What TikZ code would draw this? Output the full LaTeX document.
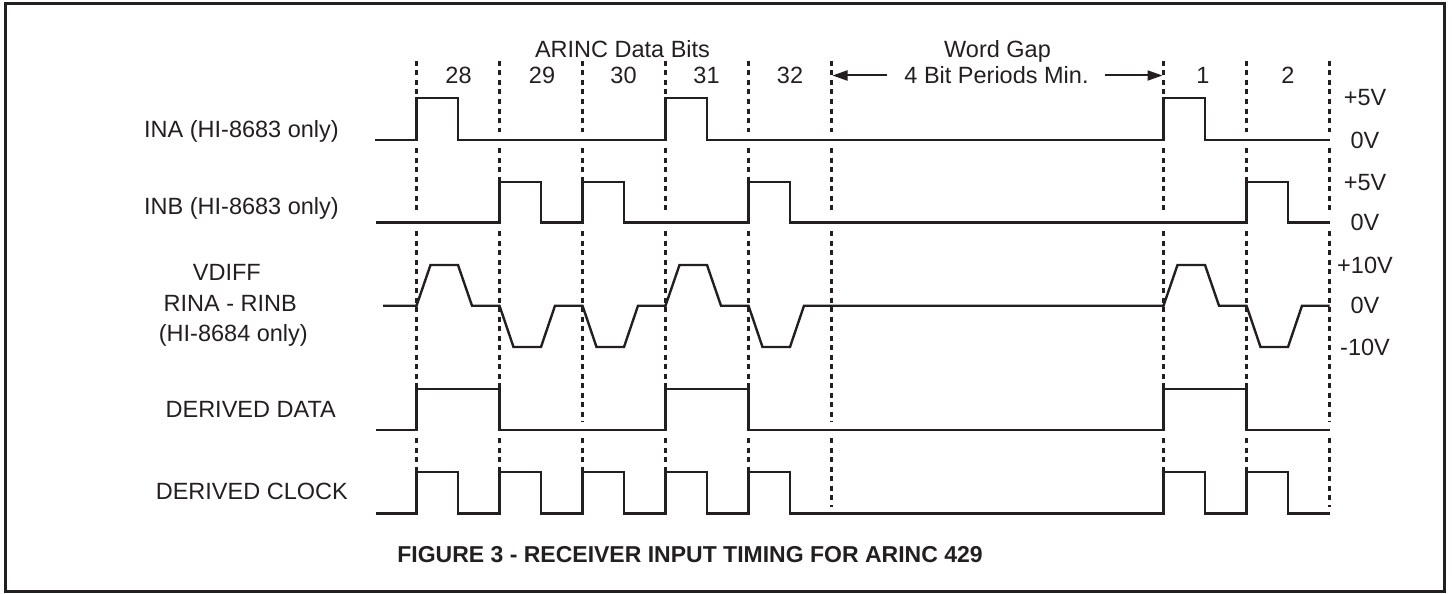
\documentclass[tikz,border=0pt]{standalone}
\usepackage{fontspec}
\setmainfont{Liberation Sans}
\usetikzlibrary{arrows.meta}
\definecolor{ink}{HTML}{231F20}
\begin{document}
\begin{tikzpicture}[x=1pt,y=-1pt,
  wave/.style={draw=ink, line width=2.4pt, line join=miter},
  gridline/.style={draw=ink, line width=2.1pt, dash pattern=on 5pt off 4.5pt},
  lbl/.style={text=ink, inner sep=0pt, font=\fontsize{23.5}{28}\selectfont},
  ttl/.style={text=ink, inner sep=0pt, font=\bfseries\fontsize{23}{27}\selectfont},
  gaparrow/.style={draw=ink, line width=2pt, -{Triangle[length=15pt,width=10pt]}},
  framebox/.style={draw=ink, line width=3.3pt}]
\useasboundingbox (0,0) rectangle (1452,594);
\draw[framebox] (5.5,3.5) rectangle (1444.5,591.7);

% dotted bit boundaries
\foreach \x in {416.5,499.5,582.5,665.5,748.5,831.5,1163.5,1246.5,1329.5} {
  \draw[gridline] (\x,61) -- (\x,132);
  \draw[gridline] (\x,148) -- (\x,214);
  \draw[gridline] (\x,231) -- (\x,422);
  \draw[gridline] (\x,438) -- (\x,507);
}

% top labels
\node[lbl, anchor=base] (arinc) at (622.5,58) {ARINC Data Bits};
\node[lbl, anchor=base] (b28) at (458.5,83.5) {28};
\node[lbl, anchor=base] (b29) at (542,83.5) {29};
\node[lbl, anchor=base] (b30) at (623.5,83.5) {30};
\node[lbl, anchor=base] (b31) at (706.5,83.5) {31};
\node[lbl, anchor=base] (b32) at (790,83.5) {32};
\node[lbl, anchor=base] (b1) at (1203,83.5) {1};
\node[lbl, anchor=base] (b2) at (1288,83.5) {2};
\node[lbl, anchor=base] (wgap) at (997.5,58) {Word Gap};
\node[lbl, anchor=base] (wgmin) at (996.5,83.5) {4 Bit Periods Min.};
\coordinate (gapLtail) at (887,75.5);
\coordinate (gapL) at (832.5,75.5);
\coordinate (gapRtail) at (1105,75.5);
\coordinate (gapR) at (1162.5,75.5);
\draw[gaparrow] (gapLtail) -- (gapL);
\draw[gaparrow] (gapRtail) -- (gapR);

% left labels
\node[lbl, anchor=base east] (ina) at (339,137) {INA (HI-8683 only)};
\node[lbl, anchor=base east] (inb) at (339,214) {INB (HI-8683 only)};
\node[lbl, anchor=base east] (vd1) at (261,280) {VDIFF};
\node[lbl, anchor=base east] (vd2) at (297,311) {RINA - RINB};
\node[lbl, anchor=base east] (vd3) at (308,341) {(HI-8684 only)};
\node[lbl, anchor=base east] (ddata) at (336,417.5) {DERIVED DATA};
\node[lbl, anchor=base east] (dclk) at (348,499) {DERIVED CLOCK};

% right labels
\node[lbl, anchor=base] (v1) at (1365,106) {+5V};
\node[lbl, anchor=base] (v2) at (1365,148) {0V};
\node[lbl, anchor=base] (v3) at (1365,190) {+5V};
\node[lbl, anchor=base] (v4) at (1365,230.5) {0V};
\node[lbl, anchor=base] (v5) at (1365,273) {+10V};
\node[lbl, anchor=base] (v6) at (1365,313.6) {0V};
\node[lbl, anchor=base] (v7) at (1365,355) {-10V};

% INA
\draw[wave] (375,140) -- (416.5,140) -- (416.5,98) -- (458,98) -- (458,140)
  -- (665.5,140) -- (665.5,98) -- (707,98) -- (707,140)
  -- (1163.5,140) -- (1163.5,98) -- (1205,98) -- (1205,140) -- (1329.5,140);
% INB
\draw[wave] (376,222.5) -- (499.5,222.5) -- (499.5,182) -- (541,182) -- (541,222.5)
  -- (582.5,222.5) -- (582.5,182) -- (624,182) -- (624,222.5)
  -- (748.5,222.5) -- (748.5,182) -- (790,182) -- (790,222.5)
  -- (1246.5,222.5) -- (1246.5,182) -- (1288,182) -- (1288,222.5) -- (1329.5,222.5);
% VDIFF
\draw[wave] (383,305.7)
  -- (416.5,305.7) -- (430.5,265) -- (458,265) -- (472,305.7)
  -- (499.5,305.7) -- (513.5,347) -- (541,347) -- (555,305.7)
  -- (582.5,305.7) -- (596.5,347) -- (624,347) -- (638,305.7)
  -- (665.5,305.7) -- (679.5,265) -- (707,265) -- (721,305.7)
  -- (748.5,305.7) -- (762.5,347) -- (790,347) -- (804,305.7)
  -- (1163.5,305.7) -- (1177.5,265) -- (1205,265) -- (1219,305.7)
  -- (1246.5,305.7) -- (1260.5,347) -- (1288,347) -- (1302,305.7)
  -- (1329.5,305.7);
% DERIVED DATA
\draw[wave] (376,430) -- (416.5,430) -- (416.5,389) -- (499.5,389) -- (499.5,430)
  -- (665.5,430) -- (665.5,389) -- (748.5,389) -- (748.5,430)
  -- (1163.5,430) -- (1163.5,389) -- (1246.5,389) -- (1246.5,430) -- (1329.5,430);
% DERIVED CLOCK
\draw[wave] (376,513.3)
  -- (416.5,513.3) -- (416.5,471.7) -- (458,471.7) -- (458,513.3)
  -- (499.5,513.3) -- (499.5,471.7) -- (541,471.7) -- (541,513.3)
  -- (582.5,513.3) -- (582.5,471.7) -- (624,471.7) -- (624,513.3)
  -- (665.5,513.3) -- (665.5,471.7) -- (707,471.7) -- (707,513.3)
  -- (748.5,513.3) -- (748.5,471.7) -- (790,471.7) -- (790,513.3)
  -- (1163.5,513.3) -- (1163.5,471.7) -- (1205,471.7) -- (1205,513.3)
  -- (1246.5,513.3) -- (1246.5,471.7) -- (1288,471.7) -- (1288,513.3)
  -- (1329.5,513.3);

% title
\node[ttl, anchor=base] (title) at (690,562) {FIGURE 3 - RECEIVER INPUT TIMING FOR ARINC 429};
\end{tikzpicture}
\end{document}
